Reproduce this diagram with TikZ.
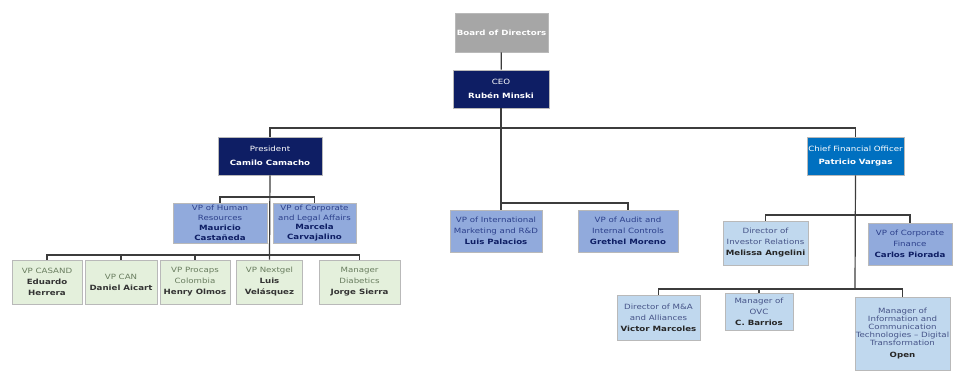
\documentclass[tikz,border=0pt]{standalone}
\usepackage{fontspec}
\setmainfont[FakeStretch=1.2]{DejaVu Sans}
\usepackage{tikz}
\definecolor{boardgray}{RGB}{166,166,166}
\definecolor{navy}{RGB}{14,30,100}
\definecolor{cfoblue}{RGB}{0,112,192}
\definecolor{vpblue}{RGB}{145,170,220}
\definecolor{paleblue}{RGB}{192,216,238}
\definecolor{palegreen}{RGB}{228,240,220}
\definecolor{linegray}{RGB}{60,60,60}
\definecolor{greentext}{RGB}{105,125,95}
\definecolor{bluetext}{RGB}{45,65,140}

\begin{document}
\begin{tikzpicture}[x=1pt, y=-1pt,
    box/.style={draw=gray!55, line width=0.6pt, align=center, inner sep=0pt,
        font=\fontsize{7.2}{11}\selectfont},
    topbox/.style={box, text=white, font=\fontsize{7.2}{13.5}\selectfont},
    vpbox/.style={box, fill=vpblue, text=bluetext},
    dirbox/.style={box, fill=paleblue, text=bluetext!70!gray},
    greenbox/.style={box, fill=palegreen, text=greentext},
    link/.style={draw=linegray, line width=1.2pt}]
		%%%%% START %%%%%
		
		\useasboundingbox (0,0) rectangle (954,370);
		
		% top of the chart
		\node[topbox, fill=boardgray, minimum width=93pt, minimum height=39pt] (board) at (501.5,32.5) {\textbf{Board of Directors}};
		\node[topbox, fill=navy, minimum width=96pt, minimum height=38pt] (ceo) at (501,89) {CEO\\\textbf{Rubén Minski}};
		\node[topbox, fill=navy, minimum width=104pt, minimum height=38pt] (pres) at (270,156) {President\\\textbf{Camilo Camacho}};
		\node[topbox, fill=cfoblue, minimum width=97pt, minimum height=38pt] (cfo) at (855.5,156) {Chief Financial Officer\\\textbf{Patricio Vargas}};
		
		% reports of the CEO
		\node[vpbox, minimum width=92pt, minimum height=42pt] (intl) at (496,231) {VP of International\\Marketing and R\&D\\\textcolor{navy}{\textbf{Luis Palacios}}};
		\node[vpbox, minimum width=100pt, minimum height=42pt] (audit) at (628,231) {VP of Audit and\\Internal Controls\\\textcolor{navy}{\textbf{Grethel Moreno}}};
		
		% reports of the President
		\node[vpbox, font=\fontsize{7.2}{9.8}\selectfont, minimum width=94pt, minimum height=40pt] (hr) at (220,223) {VP of Human\\Resources\\\textcolor{navy}{\textbf{Mauricio}}\\\textcolor{navy}{\textbf{Castañeda}}};
		\node[vpbox, font=\fontsize{7.2}{9.8}\selectfont, minimum width=83pt, minimum height=40pt] (legal) at (314.5,223) {VP of Corporate\\and Legal Affairs\\\textcolor{navy}{\textbf{Marcela}}\\\textcolor{navy}{\textbf{Carvajalino}}};
		
		\node[greenbox, minimum width=70pt, minimum height=44pt] (casand) at (47,282) {VP CASAND\\\textcolor{black!80}{\textbf{Eduardo}}\\\textcolor{black!80}{\textbf{Herrera}}};
		\node[greenbox, minimum width=72pt, minimum height=44pt] (can) at (121,282) {VP CAN\\\textcolor{black!80}{\textbf{Daniel Aicart}}};
		\node[greenbox, minimum width=70pt, minimum height=44pt] (procaps) at (195,282) {VP Procaps\\Colombia\\\textcolor{black!80}{\textbf{Henry Olmos}}};
		\node[greenbox, minimum width=66pt, minimum height=44pt] (nextgel) at (269.5,282) {VP Nextgel\\\textcolor{black!80}{\textbf{Luis}}\\\textcolor{black!80}{\textbf{Velásquez}}};
		\node[greenbox, minimum width=81pt, minimum height=44pt] (diab) at (359.5,282) {Manager\\Diabetics\\\textcolor{black!80}{\textbf{Jorge Sierra}}};
		
		% reports of the CFO
		\node[dirbox, minimum width=85pt, minimum height=44pt] (ir) at (765.5,243) {Director of\\Investor Relations\\\textcolor{black!85}{\textbf{Melissa Angelini}}};
		\node[vpbox, minimum width=84pt, minimum height=42pt] (fin) at (910,244) {VP of Corporate\\Finance\\\textcolor{navy}{\textbf{Carlos Piorada}}};
		\node[dirbox, minimum width=83pt, minimum height=45pt] (ma) at (658.5,317.5) {Director of M\&A\\and Alliances\\\textcolor{black!85}{\textbf{Victor Marcoles}}};
		\node[dirbox, minimum width=68pt, minimum height=37pt] (ovc) at (759,311.5) {Manager of\\OVC\\\textcolor{black!85}{\textbf{C. Barrios}}};
		\node[dirbox, font=\fontsize{7.2}{8}\selectfont, minimum width=95pt, minimum height=73pt] (it) at (902.5,333.5) {Manager of\\Information and\\Communication\\Technologies -- Digital\\Transformation\\[4pt]\textcolor{black!85}{\textbf{Open}}};
		
		% bus levels
		\coordinate (topbus) at (501,128);
		\coordinate (intlbus) at (501,203);
		\coordinate (hrbus) at (270,197);
		\coordinate (greenbus) at (270,255);
		\coordinate (irbus) at (855,215);
		\coordinate (cfobus) at (855,289);
		
		% lines
		\draw[link] (board) -- (ceo);
		\draw[link] (ceo.south) -- (intlbus);
		\draw[link] (pres.north) |- (topbus) -| (cfo.north);
		\draw[link] (intl.north -| intlbus) -- (intlbus) -| (audit.north);
		
		\draw[link] (pres.south) -- (nextgel.north);
		\draw[link] (hr.north) |- (hrbus) -| (legal.north);
		\draw[link] (casand.north) |- (greenbus) -| (diab.north);
		\draw[link] (can.north) -- (can.north |- greenbus);
		\draw[link] (procaps.north) -- (procaps.north |- greenbus);
		
		\draw[link] (cfo.south) -- (cfobus);
		\draw[link] (ir.north) |- (irbus) -| (fin.north);
		\draw[link] (ma.north) |- (cfobus) -| (it.north);
		\draw[link] (ovc.north) -- (ovc.north |- cfobus);
		
		%%%%% END %%%%%
	\end{tikzpicture}
\end{document}
